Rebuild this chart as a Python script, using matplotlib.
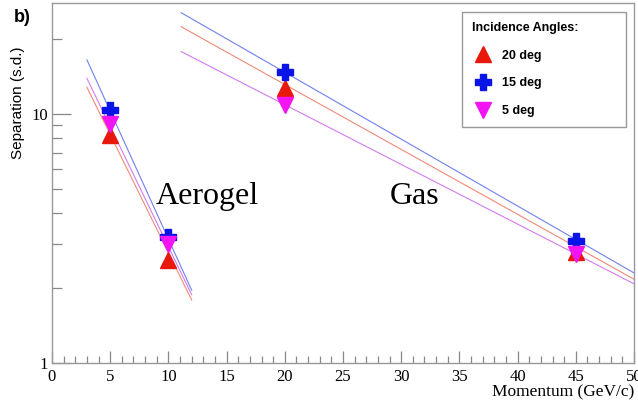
import matplotlib

matplotlib.use("Agg")
import matplotlib.pyplot as plt
from matplotlib.ticker import FixedLocator, NullFormatter, FuncFormatter, MultipleLocator

# Measured separation points (s.d.) per incidence angle
momentum = [5, 10, 20, 45]
sep_20deg = [8.2, 2.6, 12.7, 2.8]
sep_15deg = [10.4, 3.2, 14.7, 3.1]
sep_5deg = [9.1, 3.0, 10.9, 2.75]

# Fit lines (endpoints, log-linear)
aero_fit_p = [3.0, 12.0]
aero_fit_20 = [12.8, 1.79]
aero_fit_15 = [16.5, 1.96]
aero_fit_5 = [13.9, 1.88]

gas_fit_p = [11.1, 50.0]
gas_fit_20 = [22.4, 2.17]
gas_fit_15 = [25.5, 2.30]
gas_fit_5 = [17.8, 2.08]

SERIF = "Liberation Serif"
SANS = "Liberation Sans"

RED = "#e8180c"
BLUE = "#0a14e6"
MAGENTA = "#f214f2"
LINE_RED = "#f08a78"
LINE_BLUE = "#7080f0"
LINE_MAG = "#d27cf0"

fig = plt.figure(figsize=(6.38, 4.04), dpi=100)
ax = fig.add_axes([52 / 638, 41 / 404, 582 / 638, 360 / 404])

# ── fit lines ─────────────────────────────────────────────
for px, vals, col in [
    (aero_fit_p, aero_fit_15, LINE_BLUE),
    (aero_fit_p, aero_fit_5, LINE_MAG),
    (aero_fit_p, aero_fit_20, LINE_RED),
    (gas_fit_p, gas_fit_15, LINE_BLUE),
    (gas_fit_p, gas_fit_20, LINE_RED),
    (gas_fit_p, gas_fit_5, LINE_MAG),
]:
    ax.plot(px, vals, color=col, lw=0.8)

# ── data points ───────────────────────────────────────────
ax.plot(momentum, sep_20deg, ls="none", marker="^", ms=11, color=RED,
        mec=RED, label="20 deg")
ax.plot(momentum, sep_15deg, ls="none", marker="P", ms=11, color=BLUE,
        mec=BLUE, label="15 deg")
ax.plot(momentum, sep_5deg, ls="none", marker="v", ms=11, color=MAGENTA,
        mec=MAGENTA, label="5 deg")

# ── axes ──────────────────────────────────────────────────
ax.set_yscale("log")
ax.set_xlim(0, 50)
ax.set_ylim(1, 27.9)

ax.xaxis.set_major_locator(MultipleLocator(5))
ax.xaxis.set_minor_locator(MultipleLocator(1))
ax.yaxis.set_major_locator(FixedLocator([1, 10]))
ax.yaxis.set_minor_locator(FixedLocator([2, 3, 4, 5, 6, 7, 8, 9, 20]))
ax.yaxis.set_major_formatter(FuncFormatter(lambda v, _: f"{v:g}"))
ax.yaxis.set_minor_formatter(NullFormatter())

ax.tick_params(which="both", direction="in", top=False, right=False,
               color="#888888", width=0.9)
ax.tick_params(axis="x", which="major", length=9, pad=4)
ax.tick_params(axis="x", which="minor", length=5)
ax.tick_params(axis="y", which="major", length=14, pad=3)
ax.tick_params(axis="y", which="minor", length=7)
for lab in ax.get_xticklabels() + ax.get_yticklabels():
    lab.set_fontfamily(SERIF)
    lab.set_fontsize(12)
for sp in ax.spines.values():
    sp.set_color("#999999")
    sp.set_linewidth(1.0)

# ── annotations ───────────────────────────────────────────
ax.text(8.9, 4.35, "Aerogel", family=SERIF, fontsize=23, ha="left",
        va="baseline")
ax.text(29.0, 4.35, "Gas", family=SERIF, fontsize=23, ha="left",
        va="baseline")

fig.text(634 / 638, 1 - 392 / 404, "Momentum (GeV/c)", family=SERIF,
         fontsize=12.5, ha="right", va="center")
fig.text(18 / 638, 1 - 103 / 404, "Separation (s.d.)", family=SANS,
         fontsize=11, rotation=90, ha="center", va="center")
fig.text(14 / 638, 1 - 17 / 404, "b)", family=SANS, fontsize=13,
         fontweight="bold", ha="left", va="center")

# legend box: pixels x 462..626, y 10..125
lx0 = (462 - 52) / 582
lx1 = (626 - 52) / 582
ly1 = (363 - 12) / 360
ly0 = (363 - 125) / 360
leg = ax.legend(
    title="Incidence Angles:",
    loc="upper left",
    bbox_to_anchor=(lx0, ly0, lx1 - lx0, ly1 - ly0),
    mode="expand",
    prop={"family": SANS, "weight": "bold", "size": 9},
    title_fontproperties={"family": SANS, "weight": "bold", "size": 9},
    alignment="left",
    frameon=True,
    fancybox=False,
    framealpha=1,
    edgecolor="#999999",
    borderpad=0.8,
    labelspacing=1.25,
    handlelength=1.76,
    handletextpad=0.64,
    borderaxespad=0,
)
leg.get_frame().set_linewidth(1.0)

fig.savefig("out.png", dpi=100, facecolor="white")
